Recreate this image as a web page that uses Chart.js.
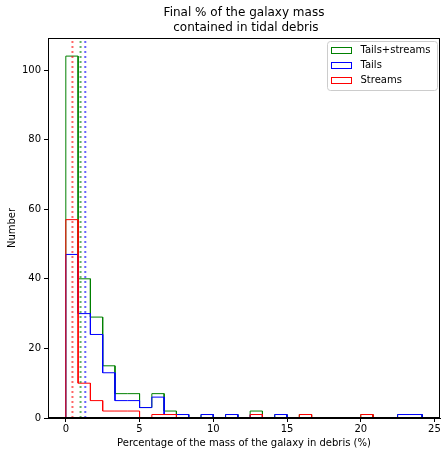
<!DOCTYPE html>
<html>
<head>
<meta charset="utf-8">
<script src="https://cdn.jsdelivr.net/npm/chart.js@4.4.0/dist/chart.umd.min.js"></script>
<style>
  body { margin: 0; background: #fff; }
</style>
</head>
<body>
<canvas id="hist" width="446" height="456"></canvas>
<script>
// histogram bins: 29 bins of width 5/6 starting at 0
const binWidth = 5 / 6;
const binCount = 29;

// counts per bin
const tailsStreams = [104, 40, 29, 15, 7, 7, 3, 7, 2, 1, 0, 1, 0, 1, 0, 2, 0, 1, 0, 1, 0, 0, 0, 0, 1, 0, 0, 1, 1];
const tails        = [47, 30, 24, 13, 5, 5, 3, 6, 1, 1, 0, 1, 0, 1, 0, 1, 0, 1, 0, 0, 0, 0, 0, 0, 0, 0, 0, 1, 1];
const streams      = [57, 10, 5, 2, 2, 2, 0, 1, 1, 0, 0, 0, 0, 0, 0, 1, 0, 0, 0, 1, 0, 0, 0, 0, 1, 0, 0, 0, 0];

// medians (dotted lines)
const medians = [1.0, 1.32, 0.45];

const seriesLabels = ["Tails+streams", "Tails", "Streams"];
const seriesColors = ["#008000", "#0000ff", "#ff0000"];
const medianColors = ["rgba(0,128,0,0.6)", "rgba(0,0,255,0.6)", "rgba(255,0,0,0.6)"];

const xTicks = [0, 5, 10, 15, 20, 25];
const yTicks = [0, 20, 40, 60, 80, 100];
const xMin = -1.2083, xMax = 25.375;
const yMax = 109.2;

const fontFamily = "'DejaVu Sans', sans-serif";
const binEdges = Array.from({ length: binCount + 1 }, (_, i) => i * binWidth);

function stepPoints(counts)
{
   const pts = [{ x: binEdges[0], y: 0 }];
   counts.forEach((c, i) =>
   {
      pts.push({ x: binEdges[i], y: c });
      pts.push({ x: binEdges[i + 1], y: c });
   });
   pts.push({ x: binEdges[counts.length], y: 0 });
   return pts;
}

const allCounts = [tailsStreams, tails, streams];

const datasets = [];
allCounts.forEach((counts, k) =>
{
   datasets.push({
      label: seriesLabels[k],
      data: stepPoints(counts),
      showLine: true,
      pointRadius: 0,
      borderColor: seriesColors[k],
      borderWidth: 1,
      fill: false,
      order: 3 - k
   });
});
medians.forEach((m, k) =>
{
   datasets.push({
      label: "median " + seriesLabels[k],
      data: [{ x: m, y: 0 }, { x: m, y: yMax }],
      showLine: true,
      pointRadius: 0,
      borderColor: medianColors[k],
      borderWidth: 2,
      borderDash: [2, 3],
      fill: false,
      order: 0
   });
});

const framePlugin =
{
   id: "frame",
   afterDraw(chart)
   {
      const ctx = chart.ctx;
      const a = chart.chartArea;
      ctx.save();
      ctx.strokeStyle = "#000";
      ctx.lineWidth = 1;
      ctx.strokeRect(Math.round(a.left) + 0.5, Math.round(a.top) + 0.5,
                     Math.round(a.right - a.left) - 1, Math.round(a.bottom - a.top) - 1);

      // legend
      const lx = 327.5, ly = 41.5, lw = 110, lh = 49, r = 3;
      ctx.beginPath();
      ctx.moveTo(lx + r, ly);
      ctx.lineTo(lx + lw - r, ly);
      ctx.arcTo(lx + lw, ly, lx + lw, ly + r, r);
      ctx.lineTo(lx + lw, ly + lh - r);
      ctx.arcTo(lx + lw, ly + lh, lx + lw - r, ly + lh, r);
      ctx.lineTo(lx + r, ly + lh);
      ctx.arcTo(lx, ly + lh, lx, ly + lh - r, r);
      ctx.lineTo(lx, ly + r);
      ctx.arcTo(lx, ly, lx + r, ly, r);
      ctx.closePath();
      ctx.fillStyle = "rgba(255,255,255,0.8)";
      ctx.fill();
      ctx.strokeStyle = "#cccccc";
      ctx.stroke();

      ctx.font = "10px " + fontFamily;
      ctx.textBaseline = "middle";
      ctx.textAlign = "left";
      seriesLabels.forEach((lab, k) =>
      {
         const cy = 50.5 + k * 15;
         ctx.strokeStyle = seriesColors[k];
         ctx.lineWidth = 1;
         ctx.strokeRect(331.5, cy - 3, 20, 6);
         ctx.fillStyle = "#000";
         ctx.fillText(lab, 360.5, cy);
      });
      ctx.restore();
   }
};

new Chart(document.getElementById("hist").getContext("2d"),
{
   type: "scatter",
   data: { datasets: datasets },
   options:
   {
      animation: false,
      responsive: false,
      layout: { padding: { left: 0, right: 6, top: 0, bottom: 0 } },
      scales:
      {
         x:
         {
            type: "linear",
            min: xMin,
            max: xMax,
            afterBuildTicks: s => { s.ticks = xTicks.map(v => ({ value: v })); },
            afterFit: s => { s.height = 38; },
            ticks: { color: "#000", font: { size: 10, family: fontFamily }, padding: 1, maxRotation: 0 },
            grid: { drawOnChartArea: false, drawTicks: true, tickLength: 4, color: "#000" },
            border: { color: "#000" },
            title:
            {
               display: true,
               text: "Percentage of the mass of the galaxy in debris (%)",
               color: "#000",
               font: { size: 10, family: fontFamily },
               padding: { top: 0, bottom: 7 }
            }
         },
         y:
         {
            type: "linear",
            min: 0,
            max: yMax,
            afterBuildTicks: s => { s.ticks = yTicks.map(v => ({ value: v })); },
            afterFit: s => { s.width = 48; },
            ticks: { color: "#000", font: { size: 10, family: fontFamily }, padding: 3 },
            grid: { drawOnChartArea: false, drawTicks: true, tickLength: 4, color: "#000" },
            border: { color: "#000" },
            title:
            {
               display: true,
               text: "Number",
               color: "#000",
               font: { size: 10, family: fontFamily },
               padding: { top: 6, bottom: 0 }
            }
         }
      },
      plugins:
      {
         legend: { display: false },
         tooltip: { enabled: false },
         title:
         {
            display: true,
            fullSize: false,
            text: ["Final % of the galaxy mass", " contained in tidal debris"],
            color: "#000",
            font: { size: 12, family: fontFamily, weight: "normal", lineHeight: 1.25 },
            padding: { top: 5.5, bottom: 2.5 }
         }
      }
   },
   plugins: [framePlugin]
});
</script>
</body>
</html>
